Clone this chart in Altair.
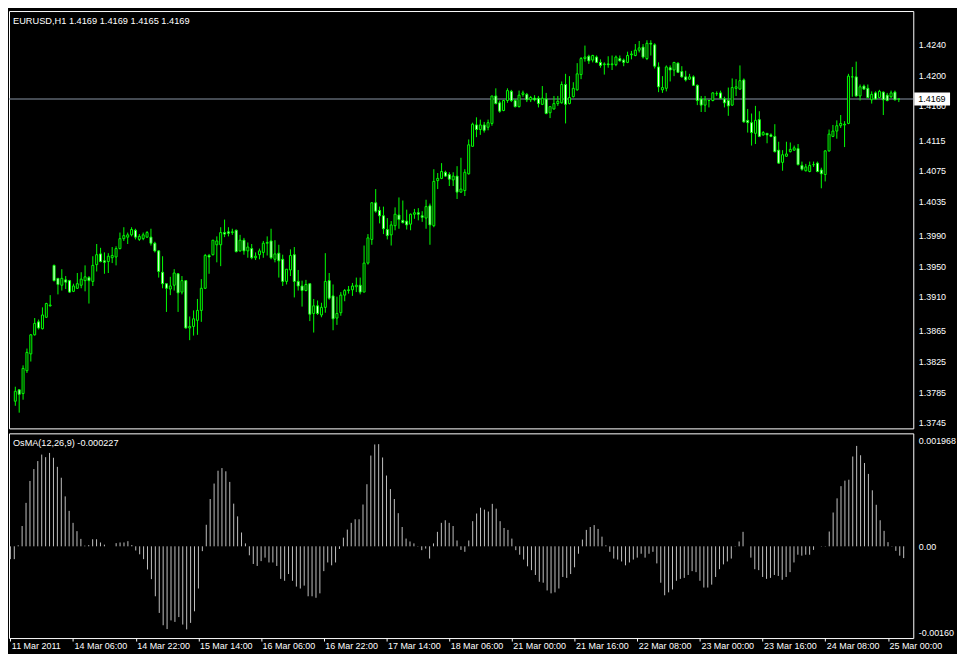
import json
import altair as alt
import pandas as pd

symbol = "EURUSD,H1"
osma_name = "OsMA(12,26,9)"

tick_index = [0, 16, 32, 48, 64, 80, 96, 112, 128, 144, 160, 176, 192, 208, 224]
tick_labels = ["11 Mar 2011", "14 Mar 06:00", "14 Mar 22:00", "15 Mar 14:00", "16 Mar 06:00",
               "16 Mar 22:00", "17 Mar 14:00", "18 Mar 06:00", "21 Mar 00:00", "21 Mar 16:00",
               "22 Mar 08:00", "23 Mar 00:00", "23 Mar 16:00", "24 Mar 08:00", "25 Mar 00:00"]
price_ticks = [1.4240, 1.4200, 1.4160, 1.4115, 1.4075, 1.4035, 1.3990, 1.3950, 1.3910,
               1.3865, 1.3825, 1.3785, 1.3745]
osma_ticks = [0.001968, 0.0, -0.0016]
osma_tick_labels = ["0.001968", "0.00", "-0.00160"]

opens = [
    1.3773, 1.3788, 1.3783, 1.3813, 1.3835, 1.3860, 1.3877, 1.3868, 1.3883, 1.3898,
    1.3951, 1.3934, 1.3925, 1.3932, 1.3931, 1.3917, 1.3921, 1.3925, 1.3931, 1.3935,
    1.3930, 1.3952, 1.3966, 1.3957, 1.3956, 1.3961, 1.3962, 1.3973, 1.3986, 1.3988,
    1.3991, 1.3997, 1.3985, 1.3986, 1.3988, 1.3988, 1.3980, 1.3970, 1.3942, 1.3927,
    1.3920, 1.3925, 1.3940, 1.3916, 1.3931, 1.3869, 1.3871, 1.3879, 1.3892, 1.3921,
    1.3964, 1.3965, 1.3978, 1.3978, 1.3994, 1.3995, 1.3994, 1.3997, 1.3970, 1.3984,
    1.3970, 1.3973, 1.3961, 1.3965, 1.3968, 1.3980, 1.3983, 1.3959, 1.3967, 1.3959,
    1.3930, 1.3945, 1.3965, 1.3930, 1.3924, 1.3918, 1.3927, 1.3888, 1.3898, 1.3886,
    1.3896, 1.3931, 1.3911, 1.3882, 1.3889, 1.3912, 1.3918, 1.3919, 1.3923, 1.3925,
    1.3916, 1.3954, 1.3985, 1.4033, 1.4023, 1.4016, 1.3998, 1.3991, 1.4003, 1.4017,
    1.4010, 1.4009, 1.4005, 1.4018, 1.4020, 1.4016, 1.4013, 1.4029, 1.4003, 1.4062,
    1.4065, 1.4073, 1.4070, 1.4063, 1.4068, 1.4047, 1.4049, 1.4071, 1.4107, 1.4135,
    1.4129, 1.4135, 1.4132, 1.4137, 1.4173, 1.4164, 1.4154, 1.4167, 1.4179, 1.4167,
    1.4159, 1.4175, 1.4175, 1.4168, 1.4170, 1.4170, 1.4162, 1.4169, 1.4151, 1.4156,
    1.4163, 1.4164, 1.4188, 1.4163, 1.4172, 1.4181, 1.4201, 1.4222, 1.4225, 1.4220,
    1.4224, 1.4217, 1.4214, 1.4215, 1.4214, 1.4214, 1.4222, 1.4220, 1.4217, 1.4227,
    1.4226, 1.4233, 1.4237, 1.4222, 1.4242, 1.4240, 1.4211, 1.4181, 1.4183, 1.4210,
    1.4207, 1.4216, 1.4205, 1.4198, 1.4195, 1.4198, 1.4187, 1.4169, 1.4161, 1.4167,
    1.4167, 1.4176, 1.4177, 1.4169, 1.4167, 1.4161, 1.4183, 1.4182, 1.4194, 1.4141,
    1.4138, 1.4124, 1.4142, 1.4122, 1.4124, 1.4122, 1.4120, 1.4102, 1.4086, 1.4094,
    1.4100, 1.4102, 1.4104, 1.4082, 1.4075, 1.4074, 1.4083, 1.4085, 1.4076, 1.4070,
    1.4101, 1.4120, 1.4127, 1.4134, 1.4135, 1.4137, 1.4198, 1.4198, 1.4173, 1.4186,
    1.4183, 1.4168, 1.4177, 1.4171, 1.4178, 1.4174, 1.4172, 1.4178, 1.4169,
]
highs = [
    1.3792, 1.3788, 1.3820, 1.3842, 1.3861, 1.3882, 1.3880, 1.3896, 1.3902, 1.3912,
    1.3952, 1.3934, 1.3946, 1.3937, 1.3932, 1.3927, 1.3941, 1.3942, 1.3951, 1.3937,
    1.3963, 1.3979, 1.3974, 1.3968, 1.3967, 1.3975, 1.3976, 1.3994, 1.4001, 1.3994,
    1.4001, 1.3999, 1.3992, 1.3994, 1.3996, 1.3999, 1.3982, 1.3971, 1.3963, 1.3927,
    1.3936, 1.3946, 1.3941, 1.3937, 1.3931, 1.3884, 1.3892, 1.3907, 1.3933, 1.3966,
    1.3966, 1.3984, 1.3989, 1.4001, 1.4011, 1.4001, 1.3999, 1.3998, 1.3991, 1.3987,
    1.3981, 1.3979, 1.3968, 1.3973, 1.3983, 1.3989, 1.3999, 1.3984, 1.3978, 1.3965,
    1.3946, 1.3972, 1.3975, 1.3945, 1.3931, 1.3932, 1.3927, 1.3907, 1.3905, 1.3902,
    1.3967, 1.3941, 1.3926, 1.3910, 1.3916, 1.3920, 1.3924, 1.3928, 1.3935, 1.3935,
    1.3977, 1.3992, 1.4034, 1.4051, 1.4028, 1.4028, 1.4013, 1.4009, 1.4027, 1.4040,
    1.4036, 1.4024, 1.4019, 1.4025, 1.4026, 1.4022, 1.4037, 1.4032, 1.4077, 1.4072,
    1.4085, 1.4075, 1.4073, 1.4073, 1.4081, 1.4092, 1.4077, 1.4116, 1.4138, 1.4145,
    1.4142, 1.4139, 1.4142, 1.4173, 1.4183, 1.4167, 1.4168, 1.4183, 1.4181, 1.4169,
    1.4180, 1.4180, 1.4177, 1.4173, 1.4174, 1.4173, 1.4186, 1.4177, 1.4159, 1.4173,
    1.4173, 1.4192, 1.4202, 1.4199, 1.4191, 1.4216, 1.4224, 1.4239, 1.4227, 1.4227,
    1.4226, 1.4221, 1.4217, 1.4225, 1.4226, 1.4226, 1.4226, 1.4222, 1.4231, 1.4232,
    1.4241, 1.4245, 1.4241, 1.4246, 1.4246, 1.4242, 1.4217, 1.4199, 1.4213, 1.4213,
    1.4217, 1.4217, 1.4212, 1.4206, 1.4202, 1.4200, 1.4188, 1.4173, 1.4173, 1.4168,
    1.4178, 1.4179, 1.4180, 1.4172, 1.4184, 1.4196, 1.4195, 1.4213, 1.4196, 1.4156,
    1.4150, 1.4160, 1.4153, 1.4127, 1.4124, 1.4124, 1.4136, 1.4113, 1.4102, 1.4113,
    1.4112, 1.4108, 1.4110, 1.4087, 1.4084, 1.4087, 1.4087, 1.4087, 1.4079, 1.4102,
    1.4129, 1.4135, 1.4141, 1.4148, 1.4140, 1.4202, 1.4211, 1.4218, 1.4188, 1.4188,
    1.4188, 1.4179, 1.4179, 1.4181, 1.4179, 1.4177, 1.4180, 1.4180, 1.4169,
]
lows = [
    1.3767, 1.3758, 1.3775, 1.3810, 1.3825, 1.3859, 1.3867, 1.3867, 1.3882, 1.3897,
    1.3930, 1.3913, 1.3918, 1.3920, 1.3915, 1.3916, 1.3920, 1.3921, 1.3917, 1.3901,
    1.3924, 1.3943, 1.3955, 1.3940, 1.3941, 1.3954, 1.3951, 1.3972, 1.3983, 1.3979,
    1.3989, 1.3985, 1.3983, 1.3984, 1.3987, 1.3977, 1.3968, 1.3935, 1.3921, 1.3890,
    1.3912, 1.3918, 1.3890, 1.3913, 1.3868, 1.3853, 1.3859, 1.3860, 1.3877, 1.3920,
    1.3940, 1.3964, 1.3955, 1.3950, 1.3988, 1.3989, 1.3991, 1.3968, 1.3969, 1.3965,
    1.3961, 1.3959, 1.3958, 1.3959, 1.3961, 1.3964, 1.3959, 1.3955, 1.3935, 1.3924,
    1.3926, 1.3937, 1.3909, 1.3918, 1.3897, 1.3917, 1.3878, 1.3863, 1.3886, 1.3883,
    1.3889, 1.3906, 1.3866, 1.3873, 1.3885, 1.3904, 1.3914, 1.3911, 1.3916, 1.3913,
    1.3916, 1.3952, 1.3978, 1.4020, 1.4006, 1.3992, 1.3985, 1.3977, 1.3997, 1.3999,
    1.4006, 1.3998, 1.3997, 1.4012, 1.4010, 1.4008, 1.3999, 1.3978, 1.4001, 1.4051,
    1.4064, 1.4067, 1.4055, 1.4055, 1.4038, 1.4046, 1.4042, 1.4070, 1.4107, 1.4119,
    1.4122, 1.4125, 1.4128, 1.4134, 1.4162, 1.4151, 1.4153, 1.4164, 1.4165, 1.4158,
    1.4158, 1.4172, 1.4165, 1.4165, 1.4166, 1.4158, 1.4161, 1.4149, 1.4144, 1.4155,
    1.4160, 1.4163, 1.4137, 1.4162, 1.4171, 1.4180, 1.4195, 1.4218, 1.4215, 1.4217,
    1.4216, 1.4210, 1.4201, 1.4210, 1.4207, 1.4212, 1.4218, 1.4212, 1.4216, 1.4221,
    1.4225, 1.4230, 1.4222, 1.4220, 1.4226, 1.4209, 1.4178, 1.4177, 1.4179, 1.4192,
    1.4199, 1.4203, 1.4197, 1.4192, 1.4194, 1.4186, 1.4161, 1.4152, 1.4152, 1.4158,
    1.4166, 1.4173, 1.4169, 1.4158, 1.4147, 1.4160, 1.4173, 1.4181, 1.4138, 1.4125,
    1.4108, 1.4110, 1.4119, 1.4121, 1.4111, 1.4119, 1.4099, 1.4084, 1.4075, 1.4093,
    1.4099, 1.4101, 1.4082, 1.4075, 1.4074, 1.4073, 1.4080, 1.4073, 1.4052, 1.4061,
    1.4100, 1.4119, 1.4117, 1.4131, 1.4106, 1.4136, 1.4172, 1.4172, 1.4167, 1.4181,
    1.4170, 1.4163, 1.4168, 1.4170, 1.4148, 1.4166, 1.4170, 1.4167, 1.4165,
]
closes = [
    1.3786, 1.3782, 1.3816, 1.3837, 1.3860, 1.3875, 1.3869, 1.3886, 1.3901, 1.3899,
    1.3931, 1.3926, 1.3934, 1.3929, 1.3916, 1.3924, 1.3927, 1.3933, 1.3936, 1.3931,
    1.3951, 1.3965, 1.3956, 1.3955, 1.3963, 1.3964, 1.3973, 1.3986, 1.3990, 1.3991,
    1.3998, 1.3988, 1.3989, 1.3991, 1.3994, 1.3980, 1.3970, 1.3943, 1.3927, 1.3921,
    1.3924, 1.3941, 1.3915, 1.3931, 1.3869, 1.3871, 1.3881, 1.3892, 1.3921, 1.3964,
    1.3962, 1.3984, 1.3983, 1.3994, 1.3992, 1.3993, 1.3995, 1.3969, 1.3984, 1.3970,
    1.3975, 1.3961, 1.3963, 1.3970, 1.3980, 1.3981, 1.3961, 1.3966, 1.3957, 1.3930,
    1.3946, 1.3964, 1.3930, 1.3924, 1.3918, 1.3926, 1.3887, 1.3898, 1.3888, 1.3896,
    1.3930, 1.3908, 1.3881, 1.3888, 1.3912, 1.3918, 1.3919, 1.3924, 1.3925, 1.3916,
    1.3954, 1.3987, 1.4033, 1.4022, 1.4016, 1.3999, 1.3990, 1.4004, 1.4018, 1.4011,
    1.4007, 1.4004, 1.4018, 1.4020, 1.4018, 1.4014, 1.4028, 1.4004, 1.4061, 1.4065,
    1.4074, 1.4068, 1.4064, 1.4068, 1.4047, 1.4051, 1.4073, 1.4109, 1.4136, 1.4129,
    1.4135, 1.4128, 1.4138, 1.4173, 1.4163, 1.4153, 1.4167, 1.4180, 1.4167, 1.4159,
    1.4174, 1.4177, 1.4168, 1.4171, 1.4168, 1.4163, 1.4170, 1.4150, 1.4159, 1.4163,
    1.4166, 1.4188, 1.4162, 1.4171, 1.4183, 1.4202, 1.4222, 1.4224, 1.4219, 1.4226,
    1.4217, 1.4213, 1.4215, 1.4214, 1.4215, 1.4224, 1.4219, 1.4217, 1.4226, 1.4228,
    1.4233, 1.4236, 1.4224, 1.4242, 1.4241, 1.4212, 1.4185, 1.4184, 1.4211, 1.4207,
    1.4217, 1.4204, 1.4198, 1.4194, 1.4198, 1.4187, 1.4167, 1.4161, 1.4168, 1.4167,
    1.4177, 1.4176, 1.4170, 1.4164, 1.4160, 1.4184, 1.4185, 1.4193, 1.4139, 1.4138,
    1.4125, 1.4141, 1.4120, 1.4125, 1.4122, 1.4120, 1.4100, 1.4085, 1.4096, 1.4097,
    1.4103, 1.4105, 1.4083, 1.4077, 1.4080, 1.4082, 1.4083, 1.4074, 1.4071, 1.4101,
    1.4123, 1.4127, 1.4134, 1.4137, 1.4136, 1.4199, 1.4198, 1.4173, 1.4185, 1.4182,
    1.4171, 1.4175, 1.4169, 1.4179, 1.4168, 1.4167, 1.4177, 1.4168, 1.4169,
]
osma = [
    -0.000247, -0.000247, 0.000019, 0.000391, 0.000837, 0.001259, 0.001488, 0.001642, 0.001767, 0.001717,
    0.001799, 0.001706, 0.001531, 0.001321, 0.000962, 0.000683, 0.000452, 0.000292, 0.000143, 0.000013,
    0.000024, 0.000136, 0.000136, 0.000074, 0.000032, 0.0, 0.0, 0.000061, 0.000074, 0.000074,
    0.000099, 0.000024, -0.000080, -0.000154, -0.000247, -0.000446, -0.000632, -0.000962, -0.001283, -0.001520,
    -0.001594, -0.001427, -0.001456, -0.001363, -0.001507, -0.001600, -0.001475, -0.001252, -0.000813, -0.000093,
    0.000415, 0.000911, 0.001209, 0.001456, 0.001507, 0.001445, 0.001241, 0.000822, 0.000577, 0.000266,
    0.000056, -0.000173, -0.000340, -0.000378, -0.000285, -0.000218, -0.000311, -0.000311, -0.000378, -0.000627,
    -0.000664, -0.000534, -0.000664, -0.000776, -0.000813, -0.000757, -0.000962, -0.000962, -0.000991, -0.000906,
    -0.000478, -0.000311, -0.000366, -0.000311, -0.000050, 0.000167, 0.000322, 0.000452, 0.000521, 0.000521,
    0.000805, 0.001196, 0.001748, 0.001962, 0.001968, 0.001711, 0.001363, 0.001103, 0.000911, 0.000638,
    0.000372, 0.000149, 0.000093, 0.000056, 0.000006, -0.000074, -0.000043, -0.000236, 0.000056, 0.000279,
    0.000452, 0.000502, 0.000452, 0.000391, 0.000112, -0.000069, -0.000106, 0.000112, 0.000484, 0.000632,
    0.000744, 0.000707, 0.000670, 0.000818, 0.000725, 0.000484, 0.000353, 0.000316, 0.000149, -0.000074,
    -0.000162, -0.000255, -0.000385, -0.000459, -0.000552, -0.000683, -0.000701, -0.000850, -0.000906, -0.000887,
    -0.000813, -0.000590, -0.000608, -0.000534, -0.000404, -0.000143, 0.000130, 0.000316, 0.000372, 0.000409,
    0.000335, 0.000186, 0.000019, -0.000106, -0.000236, -0.000255, -0.000292, -0.000366, -0.000311, -0.000255,
    -0.000218, -0.000143, -0.000218, -0.000143, -0.000106, -0.000329, -0.000701, -0.000943, -0.000887, -0.000831,
    -0.000664, -0.000627, -0.000608, -0.000552, -0.000478, -0.000497, -0.000664, -0.000794, -0.000794, -0.000738,
    -0.000590, -0.000441, -0.000348, -0.000292, -0.000236, 0.000006, 0.000093, 0.000279, 0.0, -0.000218,
    -0.000441, -0.000459, -0.000590, -0.000627, -0.000608, -0.000552, -0.000571, -0.000645, -0.000590, -0.000497,
    -0.000311, -0.000162, -0.000180, -0.000162, -0.000162, -0.000069, 0.0, 0.000006, 0.000006, 0.000285,
    0.000651, 0.000924, 0.001159, 0.001265, 0.001283, 0.001730, 0.001934, 0.001754, 0.001605, 0.001395,
    0.001079, 0.000800, 0.000502, 0.000298, 0.000080, 0.000006, -0.000087, -0.000180, -0.000227,
]

# ---------------------------------------------------------------- tables
N = len(closes)
df = pd.DataFrame({"i": list(range(N)), "open": opens, "high": highs,
                   "low": lows, "close": closes, "osma": osma})
df["zero"] = 0.0

last = pd.DataFrame({"close": [closes[-1]], "label": [f"{closes[-1]:.4f}"]})
title_df = pd.DataFrame({"t": [f"{symbol}  {opens[-1]:.4f} {highs[-1]:.4f} {lows[-1]:.4f} {closes[-1]:.4f}"]})
osma_title_df = pd.DataFrame({"t": [f"{osma_name} {osma[-1]:.6f}"]})

# ---------------------------------------------------------------- layout
W = 910
H1 = 420
H2 = 206
FONT = "Liberation Sans"
LIME = "#00ff00"

x_scale = alt.Scale(domain=[-0.35, 230.45], nice=False, zero=False)
price_scale = alt.Scale(domain=[1.37374, 1.42843], nice=False, zero=False)
osma_scale = alt.Scale(domain=[-0.001767, 0.002176], nice=False, zero=False)


def price_axis():
    return alt.Axis(orient="right", values=price_ticks, format=".4f", ticks=False,
                    labelPadding=5, title=None, labelOverlap=False)


# main panel
price_line = alt.Chart(last).mark_rule(color="#8a96a6", strokeWidth=1).encode(
    y=alt.Y("close:Q", scale=price_scale, axis=price_axis(), title=None),
    x=alt.value(0), x2=alt.value(W),
)
wicks = alt.Chart(df).mark_rule(color=LIME, strokeWidth=1).encode(
    x=alt.X("i:Q", scale=x_scale, axis=None),
    y=alt.Y("low:Q", scale=price_scale, axis=price_axis(), title=None),
    y2="high:Q",
)
bodies = alt.Chart(df).mark_bar(size=2, stroke=LIME, strokeWidth=1).encode(
    x=alt.X("i:Q", scale=x_scale, axis=None),
    y=alt.Y("open:Q", scale=price_scale, axis=price_axis(), title=None),
    y2="close:Q",
    fill=alt.condition("datum.open > datum.close", alt.value("white"), alt.value("black")),
)
box = alt.Chart(last).mark_rect(fill="white", yOffset=-6.5, y2Offset=6.5).encode(
    y=alt.Y("close:Q", scale=price_scale, axis=price_axis(), title=None),
    y2="close:Q",
    x=alt.value(W + 1), x2=alt.value(W + 37),
)
box_text = alt.Chart(last).mark_text(align="left", baseline="middle", color="black",
                                     font=FONT, fontSize=9).encode(
    y=alt.Y("close:Q", scale=price_scale, axis=price_axis(), title=None),
    x=alt.value(W + 5),
    text="label:N",
)
title = alt.Chart(title_df).mark_text(align="left", baseline="middle", color="white",
                                      font=FONT, fontSize=9.3).encode(
    x=alt.value(4), y=alt.value(10), text="t:N")

main = alt.layer(price_line, wicks, bodies, box, box_text, title).properties(width=W, height=H1)

# indicator panel
osma_expr = (f"datum.value > 0.001 ? '{osma_tick_labels[0]}' : "
             f"(datum.value < -0.001 ? '{osma_tick_labels[2]}' : '{osma_tick_labels[1]}')")
osma_axis = alt.Axis(orient="right", values=osma_ticks, labelExpr=osma_expr, ticks=False,
                     labelPadding=5, title=None,
                     labelOffset={"condition": [{"test": "datum.value > 0.001", "value": -4},
                                                {"test": "datum.value < -0.001", "value": 3}],
                                  "value": 0})
x_expr = f"{json.dumps(tick_labels)}[round(datum.value / 16)]"
x_axis = alt.Axis(values=tick_index, labelExpr=x_expr, labelAlign="left", labelBaseline="top",
                  labelOffset=1, labelPadding=1, tickSize=3, ticks=True, labelFlush=False,
                  labelOverlap=False, labelFontSize=9, title=None)

hist = alt.Chart(df).mark_rule(color="#c0c0c0", strokeWidth=1).encode(
    x=alt.X("i:Q", scale=x_scale, axis=x_axis),
    y=alt.Y("osma:Q", scale=osma_scale, axis=osma_axis),
    y2="zero:Q",
)
osma_title = alt.Chart(osma_title_df).mark_text(align="left", baseline="middle", color="white",
                                                font=FONT, fontSize=9.2).encode(
    x=alt.value(4), y=alt.value(10), text="t:N")

ind = alt.layer(hist, osma_title).properties(width=W, height=H2)

chart = alt.vconcat(main, ind, spacing=3, padding=0).configure(
    background="black",
).configure_view(
    stroke="white", strokeWidth=1,
).configure_axis(
    grid=False, domain=False, labelColor="white", labelFont=FONT, labelFontSize=9,
    tickColor="white",
)

chart.save("out.html", embed_options={"renderer": "svg", "actions": False})
